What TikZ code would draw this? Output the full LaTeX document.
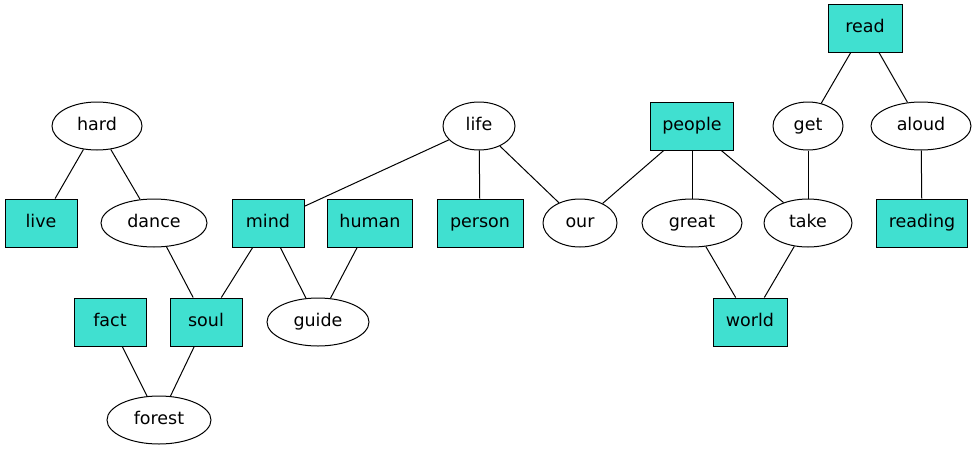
\documentclass[tikz,border=0pt]{standalone}
\usepackage{fontspec}
\setmainfont{DejaVu Sans}
\usetikzlibrary{shapes.geometric}
\definecolor{turq}{HTML}{40E0D0}
\begin{document}
\begin{tikzpicture}[x=1pt,y=-1pt,
  every node/.style={font=\fontsize{17.5}{20}\selectfont, line width=1pt, minimum height=48pt, inner sep=0pt, text height=13pt, text depth=4pt},
  boxn/.style={draw, fill=turq, rectangle},
  elln/.style={draw, fill=white, ellipse},
  conn/.style={line width=1pt}]
\useasboundingbox (0,0) rectangle (977,453);
\node[boxn, minimum width=74pt] (read) at (865,28) {read};
\node[elln, minimum width=70pt] (get) at (808,126) {get};
\node[elln, minimum width=100pt] (aloud) at (921,126) {aloud};
\node[elln, minimum width=90pt] (hard) at (97,126) {hard};
\node[elln, minimum width=72pt] (life) at (479,126) {life};
\node[boxn, minimum width=83pt] (people) at (692,126) {people};
\node[boxn, minimum width=72pt] (live) at (41,223) {live};
\node[elln, minimum width=106pt] (dance) at (154,223) {dance};
\node[boxn, minimum width=72pt] (mind) at (268,223) {mind};
\node[boxn, minimum width=85pt] (human) at (370,223) {human};
\node[boxn, minimum width=86pt] (person) at (480,223) {person};
\node[elln, minimum width=74pt] (our) at (580,223) {our};
\node[elln, minimum width=100pt] (great) at (692,223) {great};
\node[elln, minimum width=88pt] (take) at (808,223) {take};
\node[boxn, minimum width=91pt] (reading) at (922,223) {reading};
\node[boxn, minimum width=72pt] (fact) at (110,322) {fact};
\node[boxn, minimum width=72pt] (soul) at (206,322) {soul};
\node[elln, minimum width=102pt] (guide) at (318,322) {guide};
\node[boxn, minimum width=74pt] (world) at (750,322) {world};
\node[elln, minimum width=104pt] (forest) at (159,420) {forest};
\draw[conn] (hard) -- (live);
\draw[conn] (hard) -- (dance);
\draw[conn] (dance) -- (soul);
\draw[conn] (mind) -- (soul);
\draw[conn] (mind) -- (guide);
\draw[conn] (human) -- (guide);
\draw[conn] (fact) -- (forest);
\draw[conn] (soul) -- (forest);
\draw[conn] (life) -- (mind);
\draw[conn] (life) -- (person);
\draw[conn] (life) -- (our);
\draw[conn] (people) -- (our);
\draw[conn] (people) -- (great);
\draw[conn] (people) -- (take);
\draw[conn] (read) -- (get);
\draw[conn] (read) -- (aloud);
\draw[conn] (get) -- (take);
\draw[conn] (aloud) -- (reading);
\draw[conn] (great) -- (world);
\draw[conn] (take) -- (world);
\end{tikzpicture}
\end{document}
